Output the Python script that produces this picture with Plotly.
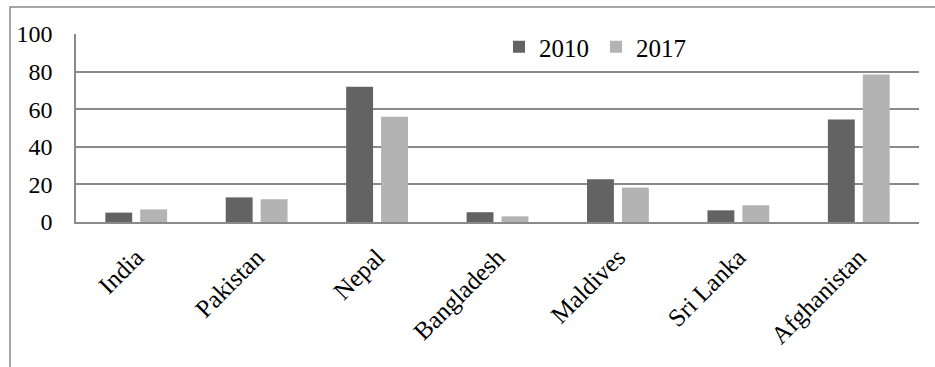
import plotly.graph_objects as go

countries = ["India", "Pakistan", "Nepal", "Bangladesh", "Maldives", "Sri Lanka", "Afghanistan"]
values_2010 = [5.0, 13.1, 71.9, 5.2, 22.8, 6.2, 54.5]
values_2017 = [6.7, 12.1, 56.0, 3.0, 18.3, 8.9, 78.4]
y_ticks = [0, 20, 40, 60, 80, 100]

W, H = 935, 367
L, R, T, B = 76, 16, 34, 145
FONT = "Liberation Serif, Times New Roman, serif"
GRID = "#8a8a8a"

fig = go.Figure()
fig.add_trace(go.Bar(name="2010", x=countries, y=values_2010,
                     marker=dict(color="#636363", line=dict(width=0))))
fig.add_trace(go.Bar(name="2017", x=countries, y=values_2017,
                     marker=dict(color="#b3b3b3", line=dict(width=0))))

pw = W - L - R
ph = H - T - B
# outer chart frame (runs off the right and bottom of the page)
fig.add_shape(type="rect", xref="paper", yref="paper",
              x0=(10 - L) / pw, x1=(W + 20 - L) / pw,
              y0=-(H + 20 - (T + ph)) / ph, y1=(T + ph - 7) / ph,
              line=dict(color=GRID, width=1.5), fillcolor="rgba(0,0,0,0)", layer="below")

fig.update_layout(
    width=W, height=H,
    margin=dict(l=L, r=R, t=T, b=B, pad=0),
    paper_bgcolor="white", plot_bgcolor="white",
    barmode="group", bargap=0.42, bargroupgap=0.23,
    font=dict(family=FONT, color="black", size=24),
    showlegend=True,
    legend=dict(orientation="h", x=(499 - L) / pw, xanchor="left",
                y=(T + ph - 47) / ph, yanchor="middle",
                font=dict(family=FONT, size=25, color="black"),
                bgcolor="rgba(0,0,0,0)", itemclick=False, tracegroupgap=0,
                entrywidth=52, entrywidthmode="pixels"),
    xaxis=dict(tickangle=-45, showgrid=False, showline=True, linecolor=GRID, linewidth=1.5,
               ticks="", ticklabelstandoff=9,
               tickfont=dict(family=FONT, size=25, color="black")),
    yaxis=dict(range=[0, 100], tickvals=y_ticks, showgrid=True, gridcolor=GRID, gridwidth=1.5,
               showline=True, linecolor=GRID, linewidth=1.5, mirror=False, zeroline=False,
               ticks="", ticklabelstandoff=17,
               tickfont=dict(family=FONT, size=24, color="black")),
)

fig.write_html("out.html")
